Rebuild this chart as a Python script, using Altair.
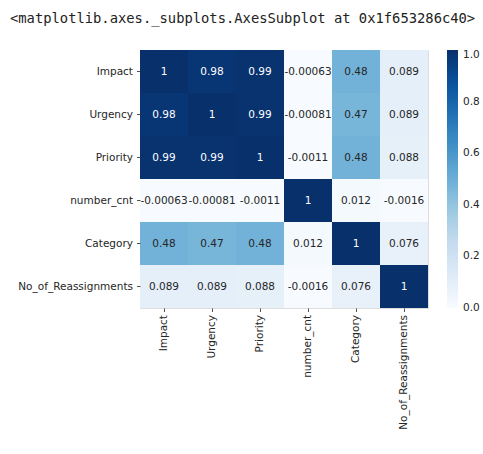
import altair as alt
import pandas as pd

# Correlation matrix of incident features
features = ["Impact", "Urgency", "Priority", "number_cnt", "Category", "No_of_Reassignments"]

impact = [1, 0.98, 0.99, -0.00063, 0.48, 0.089]
urgency = [0.98, 1, 0.99, -0.00081, 0.47, 0.089]
priority = [0.99, 0.99, 1, -0.0011, 0.48, 0.088]
number_cnt = [-0.00063, -0.00081, -0.0011, 1, 0.012, -0.0016]
category = [0.48, 0.47, 0.48, 0.012, 1, 0.076]
reassignments = [0.089, 0.089, 0.088, -0.0016, 0.076, 1]

rows = [impact, urgency, priority, number_cnt, category, reassignments]

# matplotlib "Blues" anchor colours
blues = ["#f7fbff", "#deebf7", "#c6dbef", "#9ecae1", "#6baed6",
         "#4292c6", "#2171b5", "#08519c", "#08306b"]
colorbar_ticks = [0.0, 0.2, 0.4, 0.6, 0.8, 1.0]

records = []
for row_name, row in zip(features, rows):
    for col_name, v in zip(features, row):
        records.append({"row": row_name, "col": col_name, "value": v,
                        "label": f"{v:.2g}"})
df = pd.DataFrame(records)

vmin = min(min(r) for r in rows)
vmax = max(max(r) for r in rows)

label_font = "DejaVu Sans"
ink = "#262626"

base = alt.Chart(df).encode(
    x=alt.X("col:N", sort=features, title=None,
            scale=alt.Scale(paddingInner=0, paddingOuter=0),
            axis=alt.Axis(labelAngle=270, domain=False, tickSize=3.5,
                          tickColor=ink, labelColor=ink, labelFont=label_font,
                          labelFontSize=10.5, labelPadding=3, tickWidth=0.8)),
    y=alt.Y("row:N", sort=features, title=None,
            scale=alt.Scale(paddingInner=0, paddingOuter=0),
            axis=alt.Axis(domain=False, tickSize=3.5, tickColor=ink,
                          labelColor=ink, labelFont=label_font,
                          labelFontSize=10.5, labelPadding=4, tickWidth=0.8)),
)

cells = base.mark_rect().encode(
    color=alt.Color("value:Q",
                    scale=alt.Scale(domain=[vmin, vmax], range=blues,
                                    interpolate="rgb"),
                    legend=alt.Legend(title=None, orient="none",
                                      direction="vertical",
                                      legendX=307, legendY=0,
                                      gradientLength=258, gradientThickness=11,
                                      values=colorbar_ticks, format=".1f",
                                      labelFont=label_font, labelFontSize=10.5,
                                      labelColor=ink, labelOffset=5,
                                      labelBaseline="middle",
                                      labelOverlap=False,
                                      gradientStrokeWidth=0)),
)

annotations = base.mark_text(font=label_font, fontSize=10.5).encode(
    text="label:N",
    color=alt.condition(alt.datum.value > 0.6, alt.value("white"),
                        alt.value(ink)),
)

chart = (cells + annotations).properties(
    width=288,
    height=258,
    title=alt.TitleParams(
        "<matplotlib.axes._subplots.AxesSubplot at 0x1f653286c40>",
        anchor="start", frame="group", dx=-130, offset=24,
        font="DejaVu Sans Mono", fontSize=13.8, fontWeight="normal",
        color="#222222"),
    autosize=alt.AutoSizeParams(type="none"),
    padding={"left": 140, "top": 50, "right": 55, "bottom": 146},
).configure_view(stroke=None).configure(background="white")

chart.save("out.html", embed_options={"renderer": "svg", "actions": False})
